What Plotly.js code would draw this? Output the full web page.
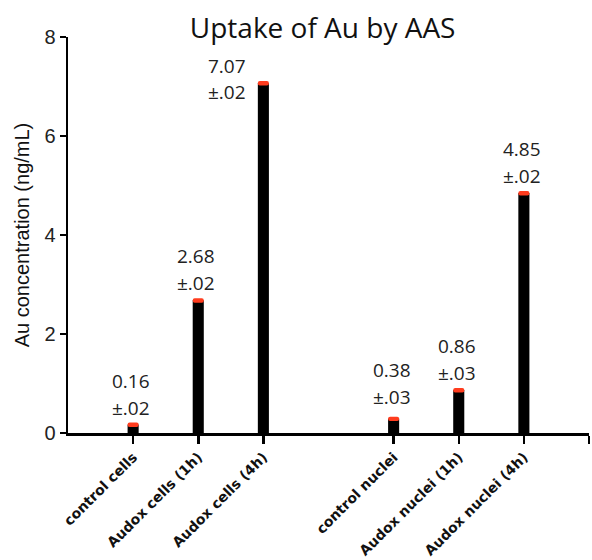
<!DOCTYPE html>
<html>
<head>
<meta charset="utf-8">
<script src="https://cdn.plot.ly/plotly-3.0.1.min.js"></script>
<style>html,body{margin:0;padding:0;background:#fff;}#chart{width:592px;height:560px;}</style>
</head>
<body>
<div id="chart"></div>
<script>
// Data
const categories = ['control cells', 'Audox cells (1h)', 'Audox cells (4h)', 'control nuclei', 'Audox nuclei (1h)', 'Audox nuclei (4h)'];
const barHeights = [0.17, 2.68, 7.07, 0.29, 0.87, 4.85];
const valueLabels = ['0.16', '2.68', '7.07', '0.38', '0.86', '4.85'];
const errLabels = ['±.02', '±.02', '±.02', '±.03', '±.03', '±.02'];
const yTickVals = [0, 2, 4, 6, 8];

// axis layout: gap category between cell and nuclei groups, and an end slot
const gapCat = '\u200b';
const endCat = '\u200b\u200b';
const catOrder = categories.slice(0, 3).concat([gapCat], categories.slice(3), [endCat]);
const tickCats = categories.concat([endCat]);
const tickText = categories.concat(['']);

const capDown = 0.05, capUp = 0.04;

const barTrace = {
  type: 'bar', x: categories, y: barHeights, width: 0.17,
  marker: {color: '#000000', line: {width: 0}},
  hoverinfo: 'skip'
};
const capTrace = {
  type: 'bar', x: categories,
  base: barHeights.map(v => v - capDown),
  y: barHeights.map(() => capDown + capUp),
  width: 0.17,
  marker: {color: '#ff3c1e', line: {width: 0}, cornerradius: 3},
  hoverinfo: 'skip'
};

const annFont = {family: 'Open Sans, sans-serif', size: 19, color: '#222'};
const labelY = valueLabels.map(Number);
const annotations = [];
categories.forEach((c, i) => {
  const tall = i === 2;
  const xs = tall ? -36 : -2;
  annotations.push({x: c, y: labelY[i], xref: 'x', yref: 'y', text: valueLabels[i], showarrow: false,
    font: annFont, yanchor: 'middle', xanchor: 'center', xshift: xs, yshift: tall ? 17 : 44});
  annotations.push({x: c, y: labelY[i], xref: 'x', yref: 'y', text: errLabels[i], showarrow: false,
    font: annFont, yanchor: 'middle', xanchor: 'center', xshift: xs, yshift: tall ? -9 : 17});
});

const layout = {
  width: 592, height: 560,
  margin: {l: 68, r: 3, t: 37, b: 127},
  paper_bgcolor: '#ffffff', plot_bgcolor: '#ffffff',
  barmode: 'overlay',
  showlegend: false,
  title: {text: 'Uptake of Au by AAS', font: {family: 'Open Sans, sans-serif', size: 28, color: '#111'},
    xref: 'container', yref: 'container', x: 0.545, y: 0.95, xanchor: 'center', yanchor: 'middle'},
  xaxis: {
    type: 'category', categoryorder: 'array', categoryarray: catOrder,
    range: [-1, 7], tickmode: 'array', tickvals: tickCats, ticktext: tickText,
    tickangle: -45, tickfont: {family: 'DejaVu Sans, sans-serif', size: 14, color: '#111', weight: 'bold'},
    showline: true, linecolor: '#000', linewidth: 2.5,
    ticks: 'outside', ticklen: 8, tickwidth: 2.5, tickcolor: '#000',
    showgrid: false, zeroline: false, fixedrange: true
  },
  yaxis: {
    range: [0, 8], tickmode: 'array', tickvals: yTickVals,
    tickfont: {family: 'Liberation Sans, Arial, sans-serif', size: 20, color: '#222'},
    showline: true, linecolor: '#000', linewidth: 2.5,
    ticks: 'outside', ticklen: 6, tickwidth: 2.5, tickcolor: '#000',
    showgrid: false, zeroline: false,
    title: {text: 'Au concentration (ng/mL)', font: {family: 'Liberation Sans, Arial, sans-serif', size: 20, color: '#111'}, standoff: 10}
  },
  annotations: annotations
};

Plotly.newPlot('chart', [barTrace, capTrace], layout, {displayModeBar: false, staticPlot: true});
</script>
</body>
</html>
